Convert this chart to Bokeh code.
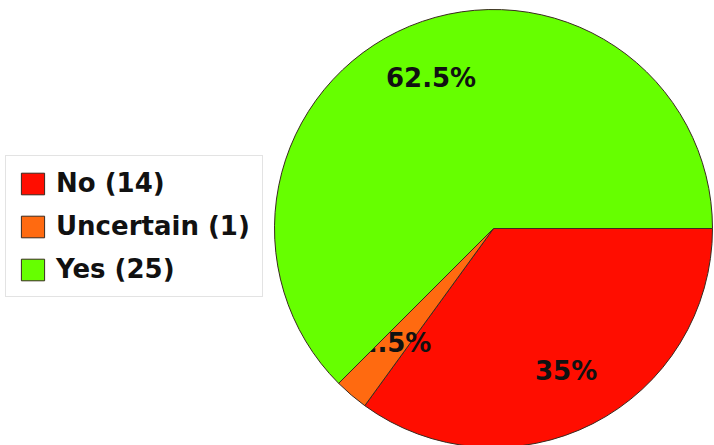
import math
from bokeh.plotting import figure
from bokeh.models import ColumnDataSource, Legend, LegendItem
from bokeh.core.properties import value
from bokeh.embed import file_html
from bokeh.resources import INLINE

# Survey answers
categories = ["No", "Uncertain", "Yes"]
counts = [14, 1, 25]
colors = ["#FF0D00", "#FF6A10", "#66FF00"]

W, H = 714, 445
cx, cy, r = 493, 217, 219
# radial position of each percentage label, as a share of the radius
label_pos = [0.73, 0.69, 0.745]

total = sum(counts)
fracs = [c / total for c in counts]
starts, ends, mids = [], [], []
acc = 0.0
for f in fracs:
    starts.append(-2 * math.pi * acc)
    ends.append(-2 * math.pi * (acc + f))
    mids.append(-2 * math.pi * (acc + f / 2))
    acc += f

def pct(f):
    s = f"{f * 100:.1f}"
    return (s[:-2] if s.endswith(".0") else s) + "%"

p = figure(width=W, height=H, x_range=(0, W), y_range=(0, H),
           output_backend="svg", toolbar_location=None,
           min_border=0, outline_line_color=None)
p.axis.visible = False
p.grid.visible = False

renderers = {}
labels_src = {}
for i, cat in enumerate(categories):
    lr = label_pos[i] * r
    labels_src[cat] = ColumnDataSource(dict(
        x=[cx + lr * math.cos(mids[i])],
        y=[cy + lr * math.sin(mids[i])],
        t=[pct(fracs[i])],
    ))

def add_wedge(i):
    src = ColumnDataSource(dict(x=[cx], y=[cy], s=[starts[i]], e=[ends[i]]))
    renderers[categories[i]] = p.wedge(
        x="x", y="y", radius=r, start_angle="s", end_angle="e",
        direction="clock", source=src, fill_color=colors[i],
        line_color="#3a2a20", line_width=1)

def add_label(cat):
    p.text(x="x", y="y", text="t", source=labels_src[cat],
           text_align="center", text_baseline="middle",
           text_font=value("DejaVu Sans"), text_font_style="bold",
           text_font_size="26px", text_color="#111111")

# the larger slice is painted last, over the smaller labels
add_wedge(0)
add_wedge(1)
add_label("No")
add_label("Uncertain")
add_wedge(2)
add_label("Yes")

items = [LegendItem(label=f"{c} ({n})", renderers=[renderers[c]])
         for c, n in zip(categories, counts)]
legend = Legend(items=items, location=(5, 148),
                label_text_font="DejaVu Sans", label_text_font_style="bold",
                label_text_font_size="26px", label_text_color="#111111",
                glyph_width=29, glyph_height=27, label_standoff=9,
                spacing=13, padding=12, margin=0,
                border_line_color="#c8c8c8", border_line_width=1,
                background_fill_color="white", background_fill_alpha=1.0)
p.add_layout(legend)

open("out.html", "w").write(file_html(p, INLINE))
